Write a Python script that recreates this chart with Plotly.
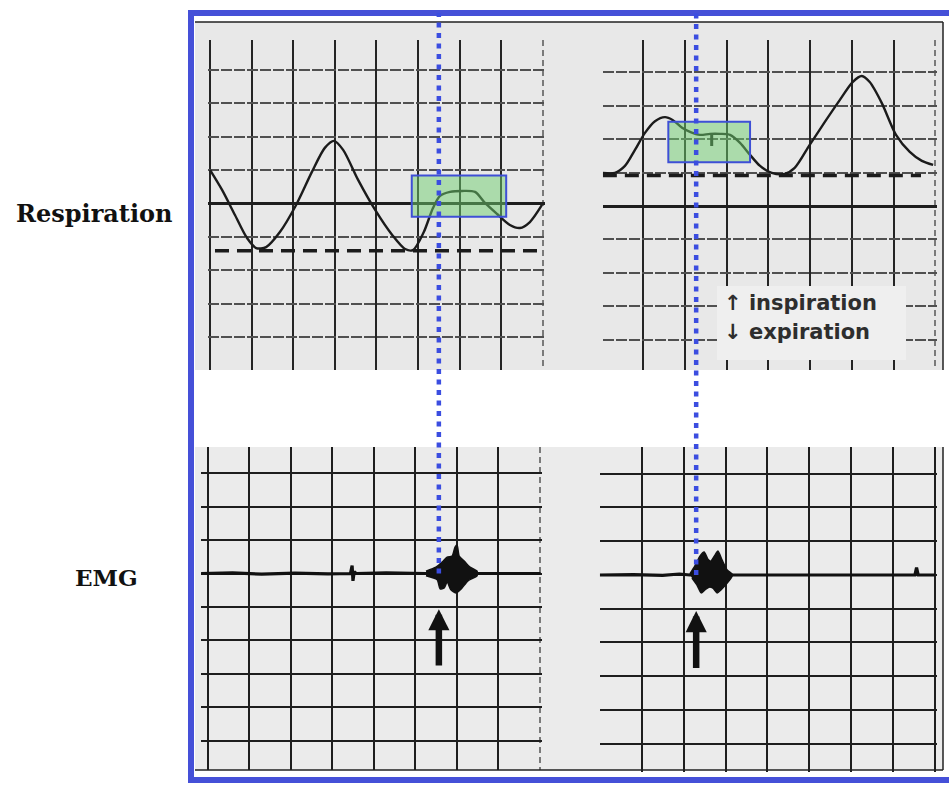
import plotly.graph_objects as go

W, H = 949, 787

# ---------------------------------------------------------------------------
# Respiration traces (x in chart divisions, y in divisions from the heavy line)
# ---------------------------------------------------------------------------
resp_left_t = [0.00, 0.29, 0.60, 0.89, 1.11, 1.35, 1.68, 2.07, 2.45, 2.76, 2.98,
               3.20, 3.56, 3.97, 4.38, 4.69, 4.88, 5.14, 5.36, 5.53, 5.77, 6.06,
               6.37, 6.61, 6.90, 7.21, 7.45, 7.69, 7.98]
resp_left_v = [1.00, 0.40, -0.35, -1.04, -1.34, -1.31, -0.86, -0.05, 0.94, 1.66, 1.87,
               1.60, 0.70, -0.20, -0.95, -1.37, -1.40, -0.86, -0.14, 0.22, 0.34, 0.37,
               0.34, 0.01, -0.32, -0.65, -0.74, -0.56, -0.05]
resp_left_rest = -1.42
resp_left_rest_span = [0.12, 8.00]

resp_right_t = [-0.97, -0.68, -0.44, -0.20, 0.04, 0.28, 0.52, 0.71, 0.93, 1.12, 1.36,
                1.60, 1.84, 2.08, 2.32, 2.56, 2.80, 3.08, 3.39, 3.63, 3.99, 4.35,
                4.71, 5.02, 5.24, 5.43, 5.72, 6.06, 6.39, 6.68, 6.95]
resp_right_v = [0.99, 0.99, 1.20, 1.68, 2.19, 2.54, 2.66, 2.57, 2.34, 2.22, 2.13,
                2.16, 2.16, 2.13, 1.89, 1.53, 1.20, 0.99, 0.96, 1.14, 1.83, 2.51,
                3.17, 3.71, 3.89, 3.71, 3.08, 2.13, 1.62, 1.35, 1.23]
resp_right_rest = 0.91
resp_right_rest_span = [-0.97, 6.66]
# event tick written on the plateau of the right trace
resp_right_mark_t = [1.64, 1.64]
resp_right_mark_v = [2.16, 1.80]

# highlighted plateau windows [t0, t1, v0, v1]
window_left = [4.85, 7.12, -0.40, 0.83]
window_right = [0.60, 2.56, 1.31, 2.52]

# ---------------------------------------------------------------------------
# EMG traces (y in divisions from the recording baseline)
# ---------------------------------------------------------------------------
emg_left_t = [-0.16, 0.60, 1.30, 2.10, 2.90, 3.44, 3.48, 3.50, 3.53, 3.58, 4.30,
              5.00, 5.26, 6.49, 7.20, 8.02]
emg_left_v = [0.00, 0.02, -0.02, 0.01, -0.01, 0.00, 0.24, -0.22, 0.05, 0.00, 0.02,
              -0.01, 0.00, 0.00, 0.01, 0.00]
burst_left_t = [5.26, 5.50, 5.65, 5.77, 5.89, 5.96, 6.01, 6.06, 6.18, 6.32, 6.49,
                6.49, 6.27, 6.11, 5.99, 5.86, 5.77, 5.70, 5.60, 5.53, 5.26]
burst_left_v = [0.07, 0.19, 0.34, 0.49, 0.52, 0.79, 0.85, 0.52, 0.37, 0.19, 0.07,
                -0.07, -0.22, -0.46, -0.58, -0.49, -0.25, -0.43, -0.46, -0.19, -0.07]

emg_right_t = [-1.00, -0.20, 0.50, 0.90, 1.15, 2.16, 3.00, 4.00, 5.00, 6.00, 6.52,
               6.56, 6.60, 7.00]
emg_right_v = [0.00, 0.01, -0.01, 0.03, 0.00, 0.00, -0.01, 0.01, 0.00, 0.01, 0.00,
               0.22, 0.00, 0.00]
burst_right_t = [1.15, 1.27, 1.39, 1.49, 1.58, 1.65, 1.75, 1.82, 1.92, 2.04, 2.16,
                 2.16, 2.04, 1.89, 1.80, 1.70, 1.61, 1.51, 1.42, 1.32, 1.20]
burst_right_v = [0.03, 0.27, 0.56, 0.68, 0.47, 0.41, 0.59, 0.71, 0.44, 0.15, 0.03,
                 -0.03, -0.24, -0.44, -0.53, -0.39, -0.36, -0.44, -0.53, -0.30, -0.09]

# EMG onset (division on each EMG strip) and arrow extent below the baseline
onset_left = 5.57
onset_right = 1.30
arrow_tip, arrow_tail = -1.07, -2.80

# ---------------------------------------------------------------------------
# Strip geometry: pixel origin / pixels per division / visible range per panel
# ---------------------------------------------------------------------------
CAL = {
    "tl": dict(px0=210.0, sx=41.6, py0=203.3, sy=33.4, xr=[-0.05, 8.05], yr=[-4.99, 4.89]),
    "tr": dict(px0=643.3, sx=41.7, py0=206.0, sy=33.4, xr=[-0.97, 7.05], yr=[-4.91, 4.97]),
    "bl": dict(px0=207.7, sx=41.5, py0=573.5, sy=33.4, xr=[-0.16, 8.05], yr=[-5.88, 3.79]),
    "br": dict(px0=641.7, sx=41.9, py0=575.0, sy=33.75, xr=[-1.00, 7.05], yr=[-5.84, 3.79]),
}


def to_px_x(c, v):
    return c["px0"] + c["sx"] * v


def to_px_y(c, v):
    return c["py0"] - c["sy"] * v


def xdom(c):
    return [to_px_x(c, c["xr"][0]) / W, to_px_x(c, c["xr"][1]) / W]


def ydom(c):
    return [1 - to_px_y(c, c["yr"][0]) / H, 1 - to_px_y(c, c["yr"][1]) / H]


def px(x):
    return x / W


def py(y):
    return 1 - y / H


INK = "#1b1b1b"
PAPER_GRAY = "#e8e8e8"
BLUE = "#4550d8"

fig = go.Figure()

# respiration
fig.add_trace(go.Scatter(x=resp_left_t, y=resp_left_v, mode="lines", xaxis="x", yaxis="y",
                         line=dict(color=INK, width=2.4, shape="spline", smoothing=0.8)))
fig.add_trace(go.Scatter(x=resp_left_rest_span, y=[resp_left_rest] * 2, mode="lines",
                         xaxis="x", yaxis="y",
                         line=dict(color=INK, width=3.5, dash="14px,8px")))
fig.add_trace(go.Scatter(x=resp_right_t, y=resp_right_v, mode="lines", xaxis="x2", yaxis="y2",
                         line=dict(color=INK, width=2.4, shape="spline", smoothing=0.8)))
fig.add_trace(go.Scatter(x=resp_right_rest_span, y=[resp_right_rest] * 2, mode="lines",
                         xaxis="x2", yaxis="y2",
                         line=dict(color=INK, width=3.5, dash="14px,8px")))
fig.add_trace(go.Scatter(x=resp_right_mark_t, y=resp_right_mark_v, mode="lines",
                         xaxis="x2", yaxis="y2", line=dict(color=INK, width=3)))

# EMG
for xa, ya, t, v, bt, bv in [("x3", "y3", emg_left_t, emg_left_v, burst_left_t, burst_left_v),
                             ("x4", "y4", emg_right_t, emg_right_v, burst_right_t, burst_right_v)]:
    fig.add_trace(go.Scatter(x=t, y=v, mode="lines", xaxis=xa, yaxis=ya,
                             line=dict(color="#111111", width=3.2)))
    fig.add_trace(go.Scatter(x=bt, y=bv, mode="lines", xaxis=xa, yaxis=ya, fill="toself",
                             fillcolor="#111111", line=dict(color="#111111", width=1.5,
                                                            shape="spline", smoothing=0.6)))


def xaxis_cfg(c, anchor, solid, faint=None, color="#242424", width=2):
    cfg = dict(domain=xdom(c), range=c["xr"], anchor=anchor, showticklabels=False, ticks="",
               zeroline=False, showline=False, tickmode="array", tickvals=solid, showgrid=True,
               gridcolor=color, gridwidth=width, fixedrange=True)
    if faint:
        cfg["minor"] = dict(tickmode="array", tickvals=faint, showgrid=True, gridcolor="#7a7a7a",
                            gridwidth=1.5, griddash="6px,4px", ticks="")
    return cfg


def yaxis_top(c, anchor):
    return dict(domain=ydom(c), range=c["yr"], anchor=anchor, showticklabels=False, ticks="",
                showline=False, tickmode="array", tickvals=list(range(-4, 5)), showgrid=True,
                gridcolor="#505050", gridwidth=1.6, griddash="11px,2px",
                zeroline=True, zerolinecolor="#1e1e1e", zerolinewidth=2.5, fixedrange=True)


def yaxis_bottom(c, anchor):
    return dict(domain=ydom(c), range=c["yr"], anchor=anchor, showticklabels=False, ticks="",
                showline=False, tickmode="array", tickvals=list(range(-5, 4)), showgrid=True,
                gridcolor="#1e1e1e", gridwidth=2.2, zeroline=False, fixedrange=True)


tl, tr, bl, br = CAL["tl"], CAL["tr"], CAL["bl"], CAL["br"]

FRAME_TOP, FRAME_BOTTOM, FRAME_LEFT = 13, 780, 191
IMG_LEFT, IMG_RIGHT = 195, 943
TOP_IMG = (22, 370)
BOT_IMG = (447, 770)

shapes = [
    # scanned strip backgrounds
    dict(type="rect", xref="paper", yref="paper", x0=px(IMG_LEFT), x1=px(IMG_RIGHT),
         y0=py(TOP_IMG[1]), y1=py(TOP_IMG[0]), fillcolor=PAPER_GRAY, line_width=0, layer="below"),
    dict(type="rect", xref="paper", yref="paper", x0=px(IMG_LEFT), x1=px(IMG_RIGHT),
         y0=py(BOT_IMG[1]), y1=py(BOT_IMG[0]), fillcolor="#ebebeb", line_width=0, layer="below"),
    # thin scan borders
    dict(type="line", xref="paper", yref="paper", x0=px(IMG_LEFT), x1=px(IMG_RIGHT),
         y0=py(TOP_IMG[0]), y1=py(TOP_IMG[0]), line=dict(color="#222", width=1.5)),
    dict(type="line", xref="paper", yref="paper", x0=px(IMG_RIGHT), x1=px(IMG_RIGHT),
         y0=py(TOP_IMG[0]), y1=py(TOP_IMG[1]), line=dict(color="#222", width=1.5)),
    dict(type="line", xref="paper", yref="paper", x0=px(IMG_RIGHT), x1=px(IMG_RIGHT),
         y0=py(BOT_IMG[0]), y1=py(BOT_IMG[1]), line=dict(color="#222", width=1.5)),
    dict(type="line", xref="paper", yref="paper", x0=px(IMG_LEFT), x1=px(IMG_RIGHT),
         y0=py(BOT_IMG[1]), y1=py(BOT_IMG[1]), line=dict(color="#222", width=1.5)),
    # legend card on the right respiration strip
    dict(type="rect", xref="paper", yref="paper", x0=px(717), x1=px(906), y0=py(360), y1=py(286),
         fillcolor="#efefef", line_width=0, layer="above"),
    # highlighted plateau windows
    dict(type="rect", xref="x", yref="y", x0=window_left[0], x1=window_left[1],
         y0=window_left[2], y1=window_left[3], fillcolor="rgba(110,205,110,0.5)",
         line=dict(color="#3e4fd6", width=2), layer="above"),
    dict(type="rect", xref="x2", yref="y2", x0=window_right[0], x1=window_right[1],
         y0=window_right[2], y1=window_right[3], fillcolor="rgba(110,205,110,0.5)",
         line=dict(color="#3e4fd6", width=2), layer="above"),
    # outer blue frame
    dict(type="rect", xref="paper", yref="paper", x0=px(FRAME_LEFT), x1=px(W + 20),
         y0=py(FRAME_BOTTOM), y1=py(FRAME_TOP), line=dict(color=BLUE, width=6), layer="above"),
]

# dotted onset markers running from the frame down to the EMG baseline
for c, onset in [(bl, onset_left), (br, onset_right)]:
    xp = px(to_px_x(c, onset))
    shapes.append(dict(type="line", xref="paper", yref="paper", x0=xp, x1=xp,
                       y0=py(to_px_y(c, 0.0)), y1=py(FRAME_TOP),
                       line=dict(color="#3b4de0", width=4.5, dash="5px,5.5px"), layer="above"))

annotations = [
    dict(text="<b>Respiration</b>", xref="paper", yref="paper", x=px(94), y=py(213),
         xanchor="center", yanchor="middle", showarrow=False,
         font=dict(family="DejaVu Serif", size=24, color="#111")),
    dict(text="<b>EMG</b>", xref="paper", yref="paper", x=px(106), y=py(577),
         xanchor="center", yanchor="middle", showarrow=False,
         font=dict(family="DejaVu Serif", size=23, color="#111")),
    dict(text="<b>\u2191 inspiration</b>", xref="paper", yref="paper", x=px(722), y=py(303),
         xanchor="left", yanchor="middle", showarrow=False,
         font=dict(family="DejaVu Sans", size=21, color="#2e2e2e")),
    dict(text="<b>\u2193 expiration</b>", xref="paper", yref="paper", x=px(722), y=py(332),
         xanchor="left", yanchor="middle", showarrow=False,
         font=dict(family="DejaVu Sans", size=21, color="#2e2e2e")),
]
for xa, ya, onset in [("x3", "y3", onset_left), ("x4", "y4", onset_right)]:
    annotations.append(dict(text="", x=onset, y=arrow_tip, ax=onset, ay=arrow_tail,
                            xref=xa, yref=ya, axref=xa, ayref=ya, showarrow=True,
                            arrowhead=2, arrowsize=0.65, arrowwidth=6.5, arrowcolor="#111"))

fig.update_layout(
    width=W, height=H, margin=dict(l=0, r=0, t=0, b=0),
    paper_bgcolor="white", plot_bgcolor="rgba(0,0,0,0)", showlegend=False,
    xaxis=xaxis_cfg(tl, "y", list(range(0, 8)), [8]),
    yaxis=yaxis_top(tl, "x"),
    xaxis2=xaxis_cfg(tr, "y2", list(range(0, 7)), [7]),
    yaxis2=yaxis_top(tr, "x2"),
    xaxis3=xaxis_cfg(bl, "y3", list(range(0, 8)), [8], color="#1e1e1e", width=2.2),
    yaxis3=yaxis_bottom(bl, "x3"),
    xaxis4=xaxis_cfg(br, "y4", list(range(0, 8)), color="#1e1e1e", width=2.2),
    yaxis4=yaxis_bottom(br, "x4"),
    shapes=shapes, annotations=annotations,
)

fig.write_html("out.html")
